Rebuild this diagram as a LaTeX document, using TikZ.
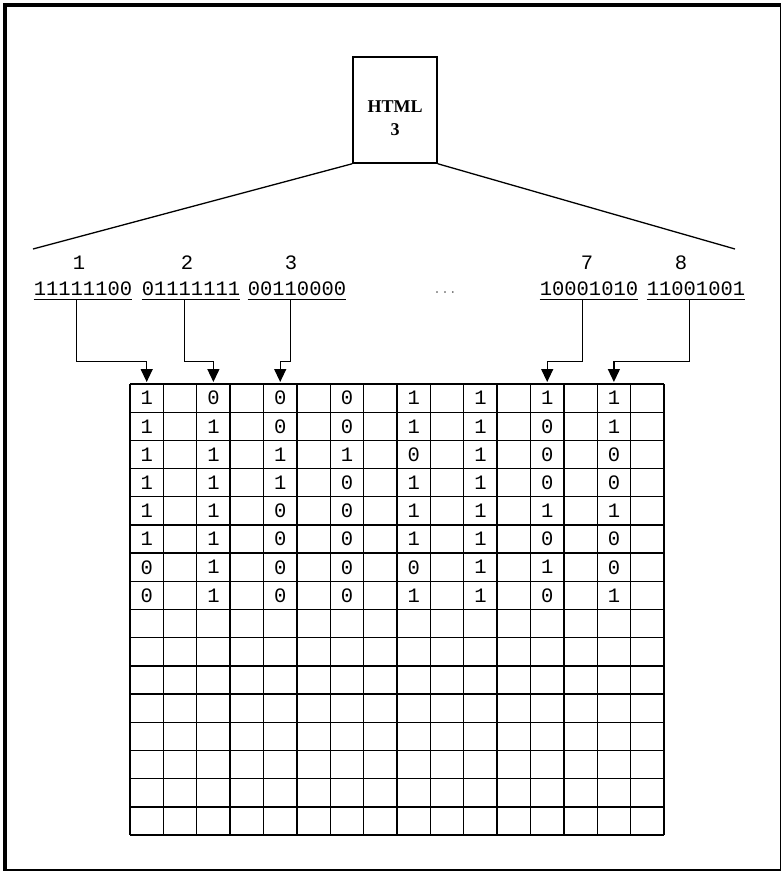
\documentclass[tikz,border=0pt]{standalone}
\usepackage{fontspec}
\setmainfont{Liberation Serif}
\setmonofont{Liberation Mono}
\usetikzlibrary{calc,arrows.meta}

\begin{document}
\begin{tikzpicture}[x=1pt,y=-1pt,
  cellline/.style={line width=1.3pt},
  feed/.style={line width=1.3pt,-{Triangle[width=12pt,length=13pt]},shorten >=2pt},
  bytelabel/.style={font=\ttfamily\fontsize{20.5}{24}\selectfont,inner sep=0pt,text depth=4pt,anchor=base},
  numlabel/.style={font=\ttfamily\fontsize{20.5}{24}\selectfont,inner sep=0pt},
  bitlabel/.style={font=\ttfamily\fontsize{20.5}{24}\selectfont,inner sep=0pt}]
  \useasboundingbox (0,0) rectangle (780,871);

  % outer frame
  \draw[line width=4pt] (5.3,5.3) rectangle (782,871);

  % the html block and its fan
  \node[draw,line width=1.5pt,minimum width=84pt,minimum height=106pt,inner sep=0pt] (html) at (395,110) {};
  \node[font=\bfseries\fontsize{18}{23}\selectfont,align=center,inner sep=0pt] (htmltext) at ([yshift=-8pt]html.center) {HTML\\3};
  \coordinate (lend) at (33,249);
  \coordinate (rend) at (735,249);
  \draw[line width=1.3pt] (html.south west) -- (lend);
  \draw[line width=1.3pt] (html.south east) -- (rend);

  % byte numbers
  \node[numlabel] (n1) at (79,263) {1};
  \node[numlabel] (n2) at (187,263) {2};
  \node[numlabel] (n3) at (291,263) {3};
  \node[numlabel] (n7) at (587,263) {7};
  \node[numlabel] (n8) at (681,263) {8};

  % bytes, underlined
  \node[bytelabel] (b1) at (83,295) {11111100};
  \node[bytelabel] (b2) at (191,295) {01111111};
  \node[bytelabel] (b3) at (297,295) {00110000};
  \node[bytelabel] (b7) at (589,295) {10001010};
  \node[bytelabel] (b8) at (696,295) {11001001};
  \foreach \k in {b1,b2,b3,b7,b8}
    \draw[line width=1.3pt] (\k.south west) -- (\k.south east);
  \node[font=\ttfamily\fontsize{13.3}{16}\selectfont,text=gray,inner sep=0pt] (more) at (445,293) {...};

  % the table, 16 by 16
  \foreach \i in {0,...,16}
    \draw[cellline] ({130+\i*33.375},384) -- ({130+\i*33.375},835);
  \foreach \j in {0,...,16}
    \draw[cellline] (130,{384+\j*28.19}) -- (664,{384+\j*28.19});

  % bits, one byte per column
  \foreach \bits [count=\c] in {{1,1,1,1,1,1,0,0},{0,1,1,1,1,1,1,1},{0,0,1,1,0,0,0,0},{0,0,1,0,0,0,0,0},{1,1,0,1,1,1,0,1},{1,1,1,1,1,1,1,1},{1,0,0,0,1,0,1,0},{1,1,0,0,1,0,0,1}}
    \foreach \b [count=\r] in \bits
      \node[bitlabel] (bit-\c-\r) at ({130+(2*\c-1.5)*33.375},{384+(\r-0.5)*28.19}) {\b};

  % arrows from the bytes into their columns
  \coordinate (t1) at (146.7,384);
  \coordinate (t2) at (213.4,384);
  \coordinate (t3) at (280.2,384);
  \coordinate (t7) at (547.2,384);
  \coordinate (t8) at (613.9,384);
  \foreach \k in {1,2,3,7,8}
    \draw[feed] ($(b\k.south west)!0.4375!(b\k.south east)$) -- ++(0,62) -| (t\k);
\end{tikzpicture}
\end{document}
